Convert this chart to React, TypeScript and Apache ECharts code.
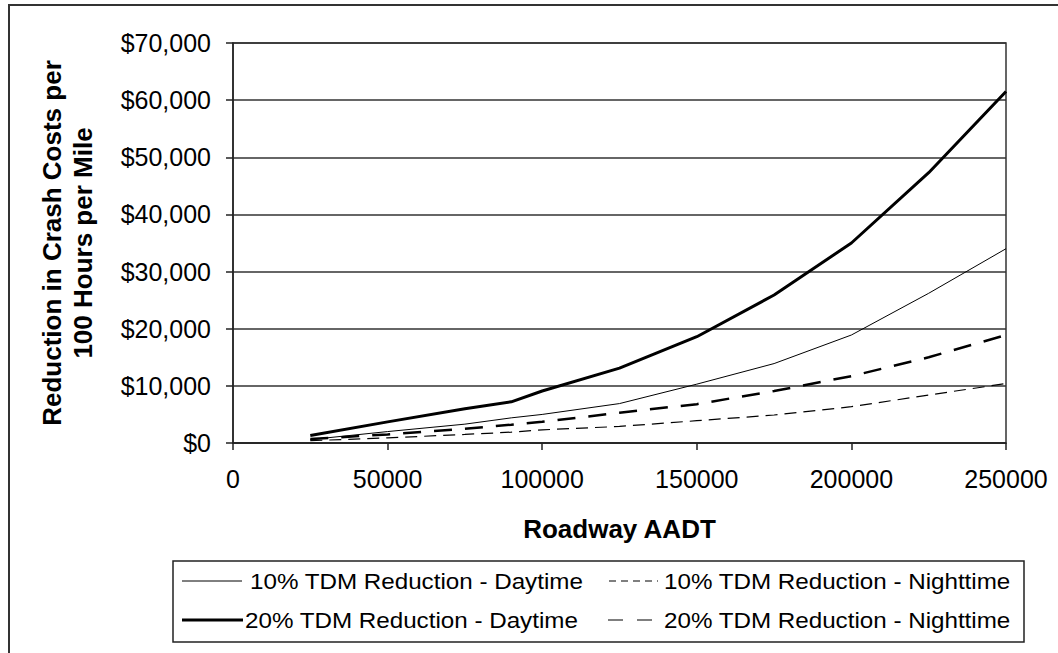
import React, { useEffect, useRef } from "react";
import * as echarts from "echarts";

const aadt = [25000, 50000, 75000, 90000, 100000, 125000, 150000, 175000, 200000, 225000, 250000];
const day10 = [600, 2000, 3300, 4400, 5000, 6900, 10300, 13900, 18900, 26200, 34000];
const night10 = [400, 900, 1500, 1900, 2300, 2900, 3900, 4900, 6350, 8400, 10400];
const day20 = [1300, 3700, 6000, 7200, 9100, 13100, 18600, 25900, 35000, 47300, 61500];
const night20 = [700, 1500, 2500, 3200, 3700, 5300, 6800, 9100, 11700, 15000, 18900];

const names = [
  "10% TDM Reduction - Daytime",
  "10% TDM Reduction - Nighttime",
  "20% TDM Reduction - Daytime",
  "20% TDM Reduction - Nighttime",
];
const yTitle = "Reduction in Crash Costs per\n100 Hours per Mile";
const xTitle = "Roadway AADT";

const FONT = "'Liberation Sans', Arial, sans-serif";

const pts = (vals: number[]) => aadt.map((x, i) => [x, vals[i]]);

export default function App() {
  const ref = useRef<HTMLDivElement>(null);
  useEffect(() => {
    if (!ref.current) return;
    const chart = echarts.init(ref.current, undefined, { renderer: "svg" });

    const legendItem = (
      name: string,
      x1: number,
      x2: number,
      tx: number,
      y: number,
      width: number,
      dash: number[] | null
    ) => [
      {
        type: "line",
        shape: { x1, y1: y, x2, y2: y },
        style: { stroke: "#000", lineWidth: width, lineDash: dash || undefined },
        silent: true,
      },
      {
        type: "text",
        x: tx,
        y,
        scaleX: 1.1,
        style: {
          text: name,
          fill: "#000",
          font: `22px ${FONT}`,
          verticalAlign: "middle",
          align: "left",
        },
        silent: true,
      },
    ];

    chart.setOption({
      animation: false,
      backgroundColor: "#fff",
      grid: {
        left: 233,
        top: 43,
        right: 52,
        bottom: 210,
        show: true,
        borderColor: "#333",
        borderWidth: 1.5,
      },
      xAxis: {
        type: "value",
        min: 0,
        max: 250000,
        interval: 50000,
        name: xTitle,
        nameLocation: "middle",
        nameGap: 73,
        nameTextStyle: { fontFamily: FONT, fontSize: 26, fontWeight: "bold", color: "#000" },
        axisLine: { show: true, onZero: false, lineStyle: { color: "#222", width: 1.5 } },
        axisTick: { show: true, length: 7, lineStyle: { color: "#222", width: 1.5 } },
        splitLine: { show: false },
        axisLabel: {
          fontFamily: FONT,
          fontSize: 25,
          color: "#000",
          margin: 23,
          formatter: (v: number) => String(v),
        },
      },
      yAxis: {
        type: "value",
        min: 0,
        max: 70000,
        interval: 10000,
        name: yTitle,
        nameLocation: "middle",
        nameRotate: 90,
        nameGap: 135,
        nameTextStyle: {
          fontFamily: FONT,
          fontSize: 26,
          fontWeight: "bold",
          color: "#000",
          lineHeight: 31,
        },
        axisLine: { show: true, lineStyle: { color: "#222", width: 1.5 } },
        axisTick: { show: true, length: 7, lineStyle: { color: "#222", width: 1.5 } },
        splitLine: { show: true, lineStyle: { color: "#333", width: 1.5 } },
        axisLabel: {
          fontFamily: FONT,
          fontSize: 25,
          color: "#000",
          margin: 22,
          formatter: (v: number) => "$" + v.toLocaleString("en-US"),
        },
      },
      graphic: [
        {
          type: "rect",
          shape: { x: 9, y: 5, width: 1100, height: 700 },
          style: { fill: "none", stroke: "#333", lineWidth: 2 },
          silent: true,
        },
        {
          type: "rect",
          shape: { x: 173, y: 561, width: 851, height: 81 },
          style: { fill: "#fff", stroke: "#222", lineWidth: 1.5 },
          silent: true,
        },
        ...legendItem(names[0], 182, 242, 250, 581, 1, null),
        ...legendItem(names[2], 182, 243, 245, 620, 3, null),
        ...legendItem(names[1], 609, 658, 664, 581, 1.2, [7, 5]),
        ...legendItem(names[3], 608, 656, 664, 620, 1.2, [15, 14]),
      ],
      series: [
        {
          name: names[0],
          type: "line",
          data: pts(day10),
          symbol: "none",
          lineStyle: { color: "#000", width: 1 },
        },
        {
          name: names[1],
          type: "line",
          data: pts(night10),
          symbol: "none",
          lineStyle: { color: "#000", width: 1.2, type: [12, 7] },
        },
        {
          name: names[2],
          type: "line",
          data: pts(day20),
          symbol: "none",
          lineStyle: { color: "#000", width: 3 },
        },
        {
          name: names[3],
          type: "line",
          data: pts(night20),
          symbol: "none",
          lineStyle: { color: "#000", width: 2.5, type: [18, 13] },
        },
      ],
    });
    return () => chart.dispose();
  }, []);
  return (
    <div
      ref={ref}
      style={{ position: "absolute", left: 0, top: 0, width: 1058, height: 653 }}
    />
  );
}
